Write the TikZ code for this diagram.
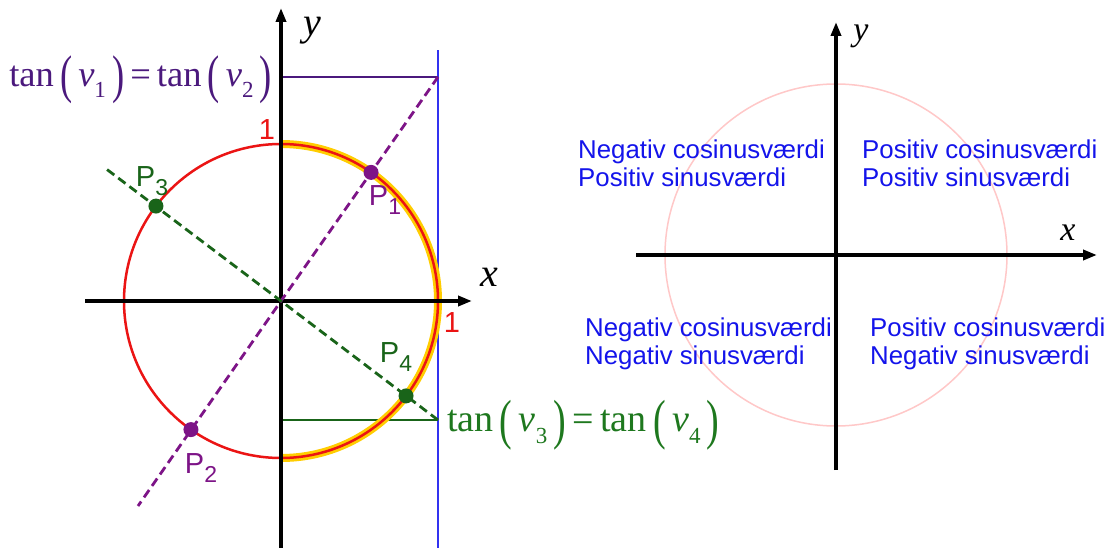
\documentclass[tikz,border=0pt]{standalone}
\usepackage{fontspec}
\setmainfont{Liberation Serif}
\newfontfamily\arialf{Liberation Sans}
\usepackage{graphicx}
\usetikzlibrary{arrows.meta}
\definecolor{myred}{RGB}{235,20,20}
\definecolor{mygold}{RGB}{255,205,0}
\definecolor{myblue}{RGB}{50,50,240}
\definecolor{tanpurple}{RGB}{75,25,125}
\definecolor{dpurple}{RGB}{125,20,135}
\definecolor{dgreen}{RGB}{25,100,25}
\definecolor{tangreen}{RGB}{30,120,30}
\definecolor{txtblue}{RGB}{20,20,235}
\definecolor{lpink}{RGB}{255,200,200}
\newcommand{\bigpar}[1]{\raisebox{-0.18em}{\scalebox{1}[1.45]{#1}}}
\newcommand{\subn}[1]{\raisebox{-0.32em}{\fontsize{23}{23}\selectfont #1}}
\newcommand{\tanexpr}[2]{tan\,\bigpar{(}\,{\itshape v}\subn{#1}\,\bigpar{)}\,=\,tan\,\bigpar{(}\,{\itshape v}\subn{#2}\,\bigpar{)}}
\begin{document}
\begin{tikzpicture}[x=1pt,y=1pt,
  axis/.style={line width=4pt,-{Triangle[length=14pt,width=10pt]}},
  dashedline/.style={line width=2.8pt,dash pattern=on 9pt off 5pt},
  dotp/.style={circle,fill=#1,inner sep=0pt,minimum size=15pt},
  plabel/.style={font=\arialf\fontsize{29}{30}\selectfont,inner sep=0pt},
  axlabel/.style={font=\fontsize{40}{40}\selectfont\itshape,inner sep=0pt},
  quadtext/.style={font=\arialf\fontsize{25.8}{28}\selectfont,text=txtblue,align=left,anchor=west,inner sep=0pt},
  tanlabel/.style={font=\fontsize{38}{40}\selectfont,inner sep=0pt}]
\useasboundingbox (0,-548) rectangle (1108,0);
\fill[white] (0,-548) rectangle (1108,0);
% ---------------- left diagram ----------------
\begin{scope}[shift={(281,-301)}]
  \coordinate (O) at (0,0);
  \coordinate (T1) at (157,224);
  \coordinate (T3) at (157,-119);
  \coordinate (PE) at (-143,-205);
  \coordinate (GE) at (-176,133);
  \coordinate (Y1) at (0,224);
  \coordinate (Y3) at (0,-119);
  \coordinate (Btop) at (157,251);
  \coordinate (Bbot) at (157,-247);
  % blue tangent line
  \draw[myblue,line width=1.4pt] (Bbot) -- (Btop);
  % horizontal tan lines
  \draw[tanpurple,line width=1.4pt] (Y1) -- (T1);
  \draw[dgreen,line width=1.4pt] (Y3) -- (T3);
  % highlighted right half
  \draw[mygold,line width=8pt] (0,157) arc[start angle=90,end angle=-90,radius=157];
  % unit circle
  \draw[myred,line width=2.5pt] (O) circle[radius=157];
  % axes
  \draw[axis] (-196,0) -- (191,0);
  \draw[axis] (0,-247) -- (0,293);
  % dashed lines
  \draw[dpurple,dashedline] (T1) -- (O) -- (PE);
  \draw[dgreen,dashedline] (T3) -- (O) -- (GE);
  % points
  \node[dotp=dpurple] (P1) at (55:157) {};
  \node[dotp=dpurple] (P2) at (235:157) {};
  \node[dotp=dgreen] (P3) at (142.8:157) {};
  \node[dotp=dgreen] (P4) at (-37.2:157) {};
  \node[plabel,text=dpurple] (L1) at (104,101) {P\subn{1}};
  \node[plabel,text=dpurple] (L2) at (-80,-167) {P\subn{2}};
  \node[plabel,text=dgreen] (L3) at (-129,120) {P\subn{3}};
  \node[plabel,text=dgreen] (L4) at (115,-56) {P\subn{4}};
  % ones
  \node[plabel,text=myred] (one1) at (-14,171) {1};
  \node[plabel,text=myred] (one2) at (171,-22) {1};
  % axis labels
  \node[axlabel] (ly) at (31,270) {y};
  \node[axlabel] (lx) at (208,24) {x};
  % tan labels
  \node[tanlabel,text=tanpurple,anchor=east,font=\fontsize{36.5}{40}\selectfont] (tan12) at (-9,221) {\tanexpr{1}{2}};
  \node[tanlabel,text=tangreen,anchor=west] (tan34) at (166,-124) {\tanexpr{3}{4}};
\end{scope}
% ---------------- right diagram ----------------
\begin{scope}[shift={(836,-255)}]
  \coordinate (O2) at (0,0);
  \draw[lpink,line width=1.5pt] (O2) circle[radius=171];
  \draw[axis] (-200,0) -- (261,0);
  \draw[axis] (0,-215) -- (0,233);
  \node[axlabel,font=\fontsize{34}{34}\selectfont\itshape] (ry) at (25,219) {y};
  \node[axlabel,font=\fontsize{34}{34}\selectfont\itshape] (rx) at (232,22) {x};
  \node[quadtext] (q2) at (-258,92) {Negativ cosinusværdi\\Positiv sinusværdi};
  \node[quadtext] (q1) at (26,92) {Positiv cosinusværdi\\Positiv sinusværdi};
  \node[quadtext] (q3) at (-251,-89) {Negativ cosinusværdi\\Negativ sinusværdi};
  \node[quadtext] (q4) at (34,-89) {Positiv cosinusværdi\\Negativ sinusværdi};
\end{scope}
\end{tikzpicture}
\end{document}
